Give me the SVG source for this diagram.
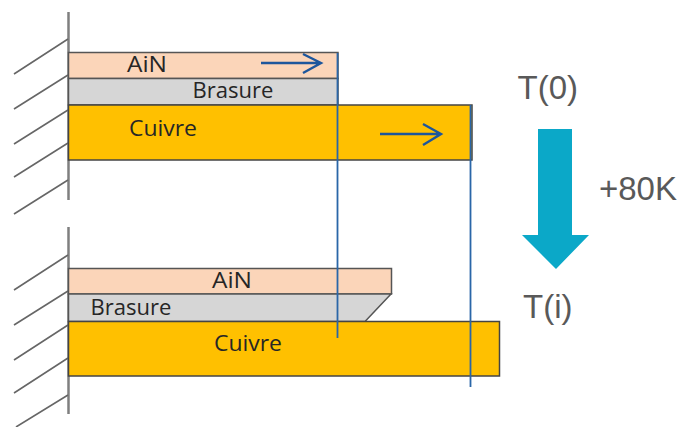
<svg xmlns="http://www.w3.org/2000/svg" width="685" height="427" viewBox="0 0 685 427">
<style>
.wall{stroke:#7f7f7f;stroke-width:2.5;fill:none}
.hatch{stroke:#666;stroke-width:1.6;fill:none}
.ain{fill:#fbd5b9;stroke:#555;stroke-width:1.5}
.bra{fill:#d6d6d6;stroke:#555;stroke-width:1.5}
.cu{fill:#ffc000;stroke:#444;stroke-width:1.5}
.guide{stroke:#2a66a8;stroke-width:1.8;fill:none}
.arr{stroke:#1d569c;stroke-width:2.4;fill:none}
.lab{font-family:"Open Sans","Noto Sans",sans-serif;font-size:22.5px;fill:#262626}
.big{font-family:"Liberation Sans",Arial,sans-serif;font-size:33px;fill:#595959}
</style>
<g id="support-top">
<path class="wall" d="M68.5 12V200"/>
<path class="hatch" d="M68 39L14 74M68 75L14 109M68 110L14 144M68 143L14 177M68 180L14 214"/>
</g>
<g id="support-bottom">
<path class="wall" d="M68.5 227V414"/>
<path class="hatch" d="M68 255L14 290M68 291L14 325M68 325L14 360M68 358L14 393M68 395L16 427"/>
</g>
<g id="ain-top"><rect class="ain" x="68.5" y="52.5" width="269.5" height="26"/><text class="lab" x="127" y="71.5" textLength="40" lengthAdjust="spacingAndGlyphs">AiN</text></g>
<g id="brasure-top"><rect class="bra" x="68.5" y="78.5" width="269.5" height="26.5"/><text class="lab" x="192.5" y="98" textLength="81" lengthAdjust="spacingAndGlyphs">Brasure</text></g>
<g id="cuivre-top"><rect class="cu" x="68.5" y="105" width="403.5" height="55"/><text class="lab" x="129" y="136" textLength="68" lengthAdjust="spacingAndGlyphs">Cuivre</text></g>
<g id="ain-bottom"><rect class="ain" x="68.5" y="268.5" width="323" height="25.5"/><text class="lab" x="212" y="288" textLength="40" lengthAdjust="spacingAndGlyphs">AiN</text></g>
<g id="brasure-bottom"><path class="bra" d="M68.5 294H391L365 321.5H68.5Z"/><text class="lab" x="90.5" y="315" textLength="81" lengthAdjust="spacingAndGlyphs">Brasure</text></g>
<g id="cuivre-bottom"><rect class="cu" x="68.5" y="321.5" width="431" height="54.5"/><text class="lab" x="214" y="350.5" textLength="68" lengthAdjust="spacingAndGlyphs">Cuivre</text></g>
<g id="connectors">
<path class="guide" d="M337.5 53V338"/>
<path class="guide" d="M470.5 105V387"/>
<path class="arr" d="M261 63H321M303 54L321 63L303 73"/>
<path class="arr" d="M380 134H441M423 124L441 134L423 145"/>
</g>
<g id="temperature-arrow"><path fill="#0ba8c8" d="M538 129H572V235H589L556 269L522 235H538Z"/></g>
<g id="t0"><text class="big" x="517.5" y="99">T(0)</text></g>
<g id="delta"><text class="big" x="599" y="200">+80K</text></g>
<g id="ti"><text class="big" x="523" y="318">T(i)</text></g>
</svg>
